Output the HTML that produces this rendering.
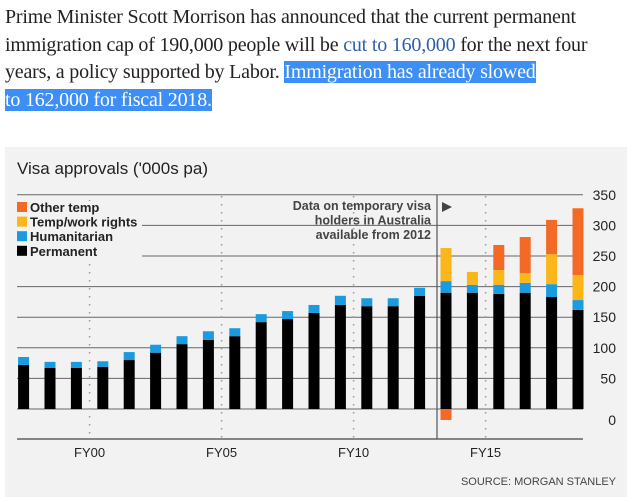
<!DOCTYPE html>
<html><head><meta charset="utf-8">
<style>
body{margin:0;width:635px;height:502px;background:#fff;overflow:hidden;font-family:"Liberation Serif",serif;}
.p{position:absolute;left:5px;top:4px;width:630px;font-size:20px;line-height:27.7px;color:#222;letter-spacing:-0.2px;white-space:nowrap;}
.lk{color:#2d5fa8;}
.hl{background:#3d8ef5;color:#fff;}
svg{position:absolute;left:0;top:0;}
</style></head><body>
<div class="p">Prime Minister Scott Morrison has announced that the current permanent<br>immigration cap of 190,000 people will be <span class="lk">cut to 160,000</span> for the next four<br>years, a policy supported by Labor. <span class="hl">Immigration has already slowed<br>to 162,000 for fiscal 2018.</span></div>
<svg id="c" width="635" height="502" font-family="Liberation Sans, sans-serif"></svg>
<script>
const years=["FY97","FY98","FY99","FY00","FY01","FY02","FY03","FY04","FY05","FY06","FY07","FY08","FY09","FY10","FY11","FY12","FY13","FY14","FY15","FY16","FY17","FY18"];
const permanent=[72,67,67,69,80,92,106,113,119,142,147,157,170,168,168,185,190,190,188,190,183,162];
const humanitarian=[13,10,10,9,13,13,13,14,13,13,13,13,15,13,13,13,19,13,15,16,21,16];
const tempWork=[0,0,0,0,0,0,0,0,0,0,0,0,0,0,0,0,54,21,24,16,49,41];
const otherTemp=[0,0,0,0,0,0,0,0,0,0,0,0,0,0,0,0,-18,0,41,59,56,109];
const ticks=[0,50,100,150,200,250,300,350];
const xLabels=["FY00","FY05","FY10","FY15"];
const xLabelIdx=[3,8,13,18];
const NS="http://www.w3.org/2000/svg";
const svg=document.getElementById('c');
function y(v){return 409-v*0.612;}
function xc(i){return 23.6+i*26.4;}
function mk(t,a,p){const e=document.createElementNS(NS,t);for(const k in a)e.setAttribute(k,a[k]);(p||svg).appendChild(e);return e;}
let bg=mk('rect',{x:5,y:147,width:622,height:350,fill:'#f2f2f2'});


let t=mk('text',{x:17,y:174,'font-size':17,fill:'#222'});t.textContent="Visa approvals ('000s pa)";


ticks.forEach(v=>{
  let g=mk('line',{x1:17,x2:583,y1:y(v),y2:y(v),stroke:'#666','stroke-width':1});
  
  
  let l=mk('text',{x:616,y:y(v)+(v===0?16:5),'font-size':14,'text-anchor':'end',fill:'#222'});l.textContent=v;
  
  
});
let ax=mk('line',{x1:17,x2:583,y1:439,y2:439,stroke:'#444','stroke-width':1.3});


xLabelIdx.forEach((idx,k)=>{
  const x=xc(idx)-13.2;
  let d=mk('line',{x1:x,x2:x,y1:k===0?200:196,y2:438,stroke:'#999','stroke-width':1.5,'stroke-dasharray':'1.5,6.5'});
  
  
  let l=mk('text',{x:x,y:457,'font-size':13,'text-anchor':'middle',fill:'#222'});l.textContent=xLabels[k];
  
  
});
let sv=mk('line',{x1:437,x2:437,y1:195,y2:439,stroke:'#555','stroke-width':1.2});


let note=mk('text',{'font-size':12.5,'font-weight':'bold',fill:'#444','text-anchor':'end'});


["Data on temporary visa","holders in Australia","available from 2012"].forEach((s,i)=>{let ts=mk('tspan',{x:431,y:210+i*14.5},note);ts.textContent=s;});
let ar=mk('path',{d:'M442,202 L452,207 L442,212 Z',fill:'#444'});


const w=11;
years.forEach((yr,i)=>{
  const x=xc(i)-w/2;let base=0;
  const segs=[[permanent[i],'#000'],[humanitarian[i],'#1a9be0'],[tempWork[i],'#fbb619']];
  segs.forEach(([v,c],k)=>{
    if(v>0){let r=mk('rect',{x:x,y:y(base+v),width:w,height:v*0.612,fill:c});
      
      
      base+=v;}
  });
  const o=otherTemp[i];
  if(o>0){let r=mk('rect',{x:x,y:y(base+o),width:w,height:o*0.612,fill:'#f26a25'});
    
    }
  else if(o<0){let r=mk('rect',{x:x,y:y(0),width:w,height:-o*0.612,fill:'#f26a25'});
    
    }
});
const leg=[["Other temp",'#f26a25'],["Temp/work rights",'#fbb619'],["Humanitarian",'#1a9be0'],["Permanent",'#000']];
leg.forEach((e,i)=>{
  const yy=202+i*14.6;
  let bgx=mk('rect',{x:16,y:yy-1,width:126,height:14,fill:'#f2f2f2'});
  
  
  let s=mk('rect',{x:17,y:yy,width:10,height:10,fill:e[1]});
  
  
  let l=mk('text',{x:30,y:yy+10,'font-size':13,'font-weight':'bold',fill:'#222'});l.textContent=e[0];
  
  
});
let src=mk('text',{x:616,y:485,'font-size':11,'text-anchor':'end',fill:'#444'});src.textContent="SOURCE: MORGAN STANLEY";


</script>
</body></html>
